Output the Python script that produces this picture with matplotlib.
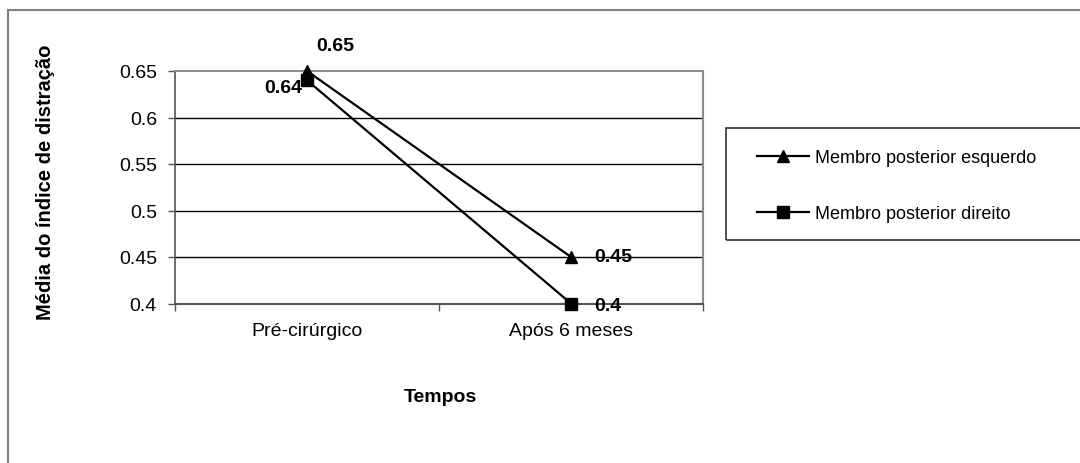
import matplotlib.pyplot as plt
from matplotlib.patches import Rectangle
from matplotlib.lines import Line2D

plt.rcParams['font.family'] = ['Liberation Sans', 'DejaVu Sans']

# data
tempos = ['Pré-cirúrgico', 'Após 6 meses']
esquerdo = [0.65, 0.45]
direito = [0.64, 0.40]
series_names = ['Membro posterior esquerdo', 'Membro posterior direito']
yticks = [0.4, 0.45, 0.5, 0.55, 0.6, 0.65]

W, H = 1080, 464
fig = plt.figure(figsize=(W / 100, H / 100), dpi=100)

def px(x0, y0, x1, y1):
    # pixel box (top-left origin) -> figure fraction rect
    return [x0 / W, 1 - y1 / H, (x1 - x0) / W, (y1 - y0) / H]

ax = fig.add_axes(px(175, 72, 703, 304.5))
xs = list(range(len(tempos)))

ax.plot(xs, esquerdo, color='black', lw=1.6, marker='^', ms=9, zorder=3,
        clip_on=False)
ax.plot(xs, direito, color='black', lw=1.6, marker='s', ms=8, zorder=3,
        clip_on=False)

fs = 14
bold = dict(fontsize=fs, fontweight='bold', va='center')
ax.annotate('0.65', (0, esquerdo[0]), xytext=(9, 25),
            textcoords='offset pixels', ha='left', **bold)
ax.annotate('0.64', (0, direito[0]), xytext=(-5, -7),
            textcoords='offset pixels', ha='right', **bold)
ax.annotate('0.45', (1, esquerdo[1]), xytext=(23, 0),
            textcoords='offset pixels', ha='left', **bold)
ax.annotate('0.4', (1, direito[1]), xytext=(23, -2),
            textcoords='offset pixels', ha='left', **bold)

ax.set_xlim(-0.5, len(tempos) - 0.5)
ax.set_ylim(0.4, 0.65)
ax.set_yticks(yticks)
ax.set_yticklabels([f'{v:g}' for v in yticks])
ax.set_xticks(xs)
ax.set_xticklabels(tempos)
ax.set_xticks([-0.5, 0.5, 1.5], minor=True)
ax.tick_params(axis='x', which='major', length=0, pad=13, labelsize=fs)
ax.tick_params(axis='x', which='minor', length=5, width=1, color='#555555')
ax.tick_params(axis='y', length=5, width=1, color='#555555', pad=8,
               labelsize=fs)

for v in yticks[1:-1]:
    ax.axhline(v, color='black', lw=1, zorder=1)
for side in ['top', 'right']:
    ax.spines[side].set_color('#8c8c8c')
    ax.spines[side].set_linewidth(1.5)
ax.spines['left'].set_color('#555555')
ax.spines['bottom'].set_color('#555555')
ax.spines['left'].set_linewidth(1.2)
ax.spines['bottom'].set_linewidth(1.5)

ax.set_ylabel('Média do índice de distração', fontsize=14.5,
              fontweight='bold')
ax.yaxis.set_label_coords((55 - 175) / 528, 0.527)
fig.text(440 / W, 1 - 397 / H, 'Tempos', fontsize=fs, fontweight='bold',
         ha='center', va='center')

# outer chart frame
fig.patches.append(Rectangle((8 / W, -0.05), 1.1, 1 - 11 / H + 0.05,
                             transform=fig.transFigure, fill=False,
                             edgecolor='#808080', lw=1.5))
# legend box
fig.patches.append(Rectangle((726 / W, 1 - 241 / H), 400 / W, 112 / H,
                             transform=fig.transFigure, fill=False,
                             edgecolor='#333333', lw=1.2))
handles = [Line2D([], [], color='black', lw=1.6, marker='^', ms=8),
           Line2D([], [], color='black', lw=1.6, marker='s', ms=8)]
fig.legend(handles, series_names, loc='upper left', frameon=False,
           bbox_to_anchor=(757 / W, 1 - 150 / H), borderpad=0,
           borderaxespad=0, handlelength=2.9, handletextpad=0.3,
           labelspacing=2.17, fontsize=13)

fig.savefig('out.png', dpi=100)
